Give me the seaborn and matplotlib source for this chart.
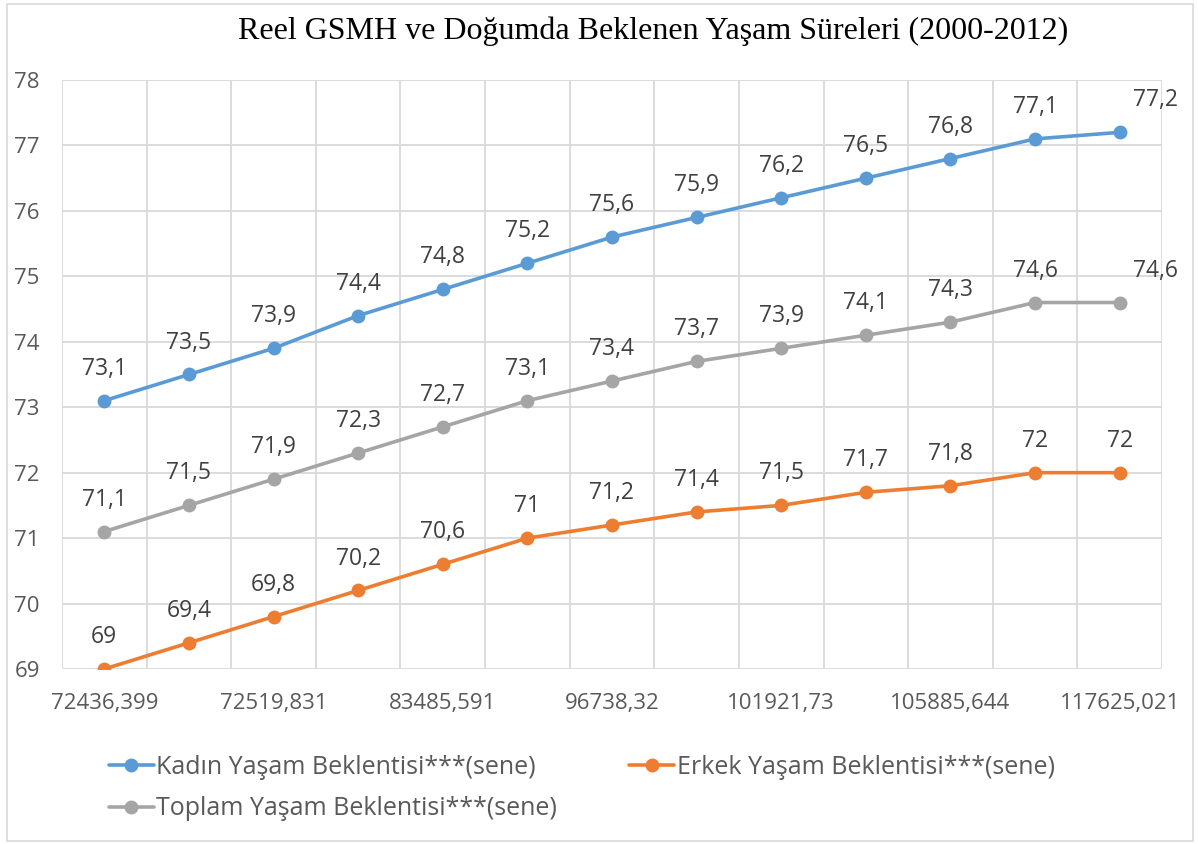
import numpy as np
import pandas as pd
import matplotlib
matplotlib.use("Agg")
import matplotlib.pyplot as plt
from matplotlib.patches import Rectangle
import seaborn as sns

# veriler (2000-2012)
gsmh_labels = ["72436,399", "72519,831", "83485,591", "96738,32",
               "101921,73", "105885,644", "117625,021"]
kadin = [73.1, 73.5, 73.9, 74.4, 74.8, 75.2, 75.6, 75.9, 76.2, 76.5, 76.8, 77.1, 77.2]
erkek = [69.0, 69.4, 69.8, 70.2, 70.6, 71.0, 71.2, 71.4, 71.5, 71.7, 71.8, 72.0, 72.0]
toplam = [71.1, 71.5, 71.9, 72.3, 72.7, 73.1, 73.4, 73.7, 73.9, 74.1, 74.3, 74.6, 74.6]

seri_adlari = ["Kadın Yaşam Beklentisi***(sene)",
               "Erkek Yaşam Beklentisi***(sene)",
               "Toplam Yaşam Beklentisi***(sene)"]
renkler = ["#5B9BD5", "#ED7D31", "#A5A5A5"]

sns.set_theme(style="white")
plt.rcParams["font.family"] = ["Open Sans", "DejaVu Sans"]

n = len(kadin)
idx = np.arange(n)
df = pd.DataFrame({"idx": np.tile(idx, 3),
                   "deger": kadin + erkek + toplam,
                   "seri": np.repeat(seri_adlari, n)})

fig = plt.figure(figsize=(11.98, 8.44), dpi=100)
ax = fig.add_axes([62 / 1198, 1 - 669 / 844, 1100 / 1198, 589 / 844])

for ad, renk in zip(seri_adlari, renkler):
    d = df[df["seri"] == ad]
    sns.lineplot(data=d, x="idx", y="deger", ax=ax, color=renk, linewidth=2.6,
                 marker="o", markersize=10, markeredgewidth=0, label=ad, zorder=3)
    vals = d["deger"].tolist()
    for i, v in zip(d["idx"], vals):
        txt = f"{v:g}".replace(".", ",")
        dx = 0
        if i == n - 1 and ad != seri_adlari[1]:
            dx = 26
        ax.annotate(txt, (i, v), xytext=(dx, 23), textcoords="offset points",
                    ha="center", va="center", fontsize=16.5, color="#404040")

ax.set_xlim(-0.5, n - 0.5)
ax.set_ylim(69, 78)
ax.set_yticks(range(69, 79))
ax.set_xticks(idx[::2])
ax.set_xticklabels(gsmh_labels)
ax.set_xticks(np.arange(-0.5, n), minor=True)
ax.grid(False)
ax.grid(True, which="minor", axis="x", color="#D9D9D9", linewidth=1.3)
ax.grid(True, which="major", axis="y", color="#D9D9D9", linewidth=1.3)
ax.tick_params(axis="both", which="both", length=0, labelsize=16,
               labelcolor="#595959")
ax.tick_params(axis="y", pad=16)
ax.tick_params(axis="x", pad=17)
for s in ax.spines.values():
    s.set_visible(False)
ax.set_xlabel("")
ax.set_ylabel("")

h, l = ax.get_legend_handles_labels()
order = [0, 2, 1]
ax.legend([h[i] for i in order], [l[i] for i in order], ncol=2,
          loc="upper left", bbox_to_anchor=(96 / 1198, 0.12),
          bbox_transform=fig.transFigure, frameon=False, fontsize=18,
          labelcolor="#595959", handlelength=1.8, handletextpad=0.1,
          columnspacing=2.9, labelspacing=0.65, borderpad=0)

fig.text(0.545, 0.963, "Reel GSMH ve Doğumda Beklenen Yaşam Süreleri (2000-2012)",
         ha="center", va="center", fontsize=23, family="Liberation Serif",
         color="black")

fig.patches.append(Rectangle((7 / 1198, 3 / 844), 1186 / 1198, 837 / 844,
                             transform=fig.transFigure, fill=False,
                             edgecolor="#D9D9D9", linewidth=1.2))

fig.savefig("out.png", dpi=100)
